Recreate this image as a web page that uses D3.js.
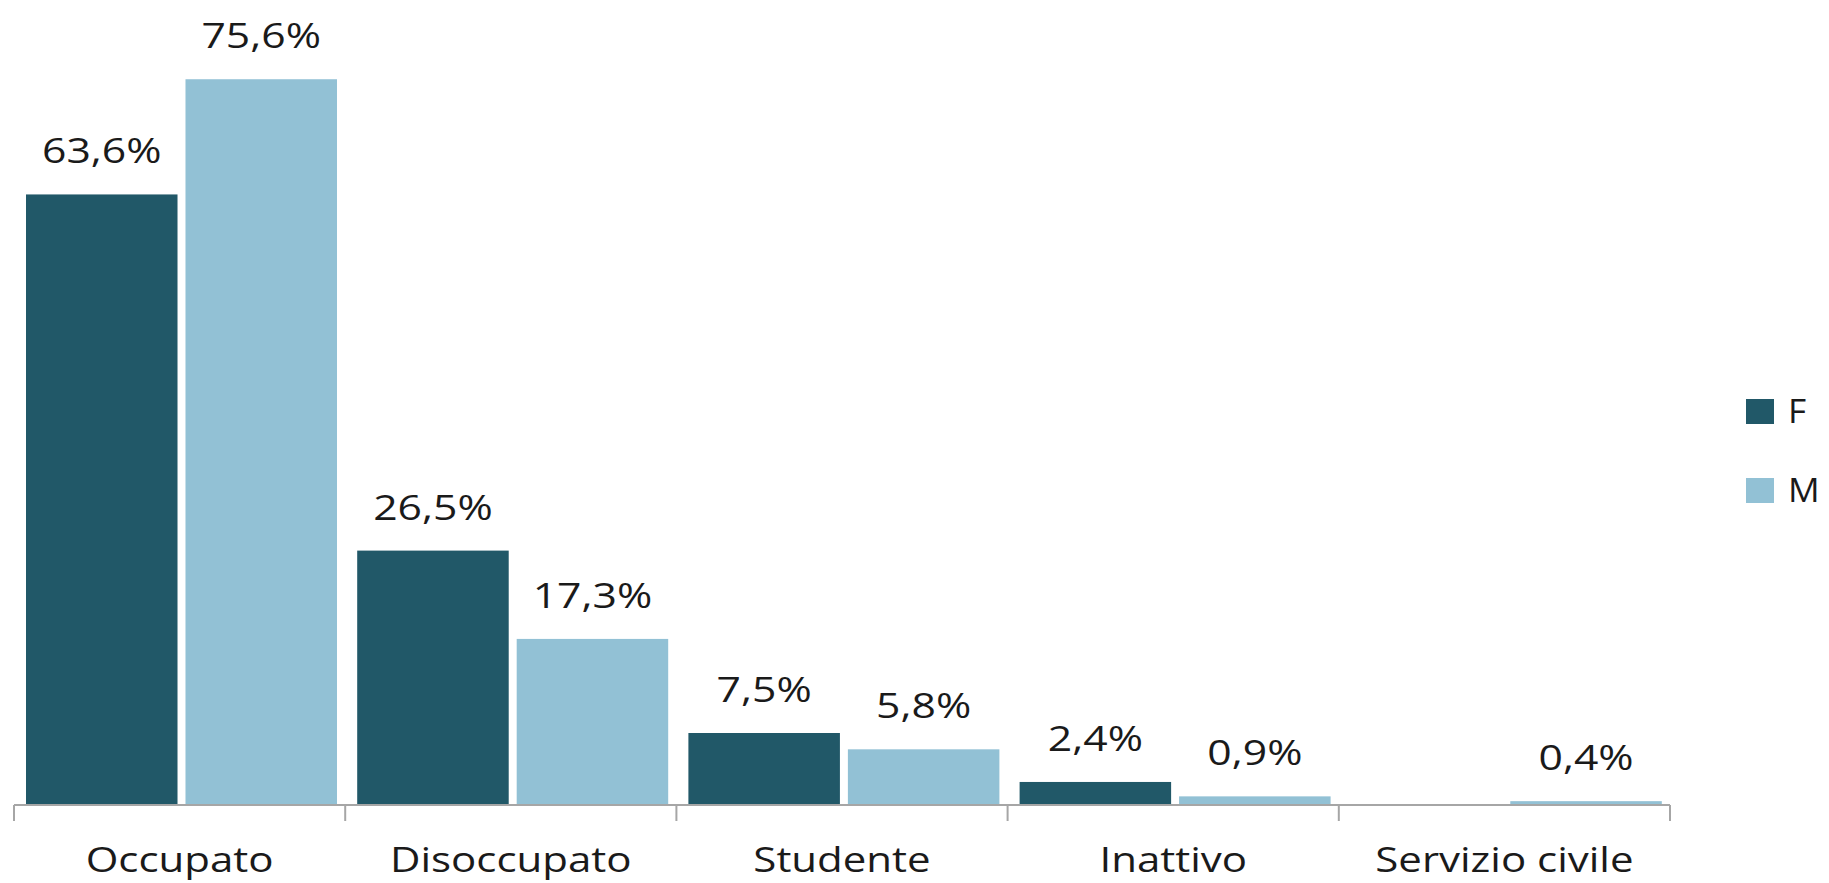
<!DOCTYPE html>
<html>
<head>
<meta charset="utf-8">
<script src="https://cdn.jsdelivr.net/npm/d3@7"></script>
<style>
  html, body { margin: 0; padding: 0; background: #ffffff; }
  svg { display: block; }
  text { font-family: "Open Sans", "Noto Sans", sans-serif; fill: #1a1a1a; }
</style>
</head>
<body>
<svg id="chart" width="1829" height="883"></svg>
<script>
const categories = ["Occupato", "Disoccupato", "Studente", "Inattivo", "Servizio civile"];
const series = ["F", "M"];
const valuesF = [63.6, 26.5, 7.5, 2.4, 0];
const valuesM = [75.6, 17.3, 5.8, 0.9, 0.4];
const labelsF = ["63,6%", "26,5%", "7,5%", "2,4%", ""];
const labelsM = ["75,6%", "17,3%", "5,8%", "0,9%", "0,4%"];
const colors = { F: "#215868", M: "#92c1d5" };

const svg = d3.select("#chart");
const baseY = 805;
const y = d3.scaleLinear().domain([0, 80]).range([baseY, baseY - 768]);
const x0 = d3.scaleBand().domain(categories).range([14, 1670]).padding(0);
const x1 = d3.scaleBand().domain(series).range([12, 323]).paddingInner(0.05).paddingOuter(0);

const data = categories.map((c, i) => ({
  cat: c,
  items: [
    { s: "F", v: valuesF[i], label: labelsF[i] },
    { s: "M", v: valuesM[i], label: labelsM[i] }
  ]
}));

const groups = svg.selectAll("g.cat").data(data).enter().append("g")
  .attr("class", "cat")
  .attr("transform", d => `translate(${x0(d.cat)},0)`);

groups.selectAll("rect").data(d => d.items.filter(it => it.v > 0)).enter().append("rect")
  .attr("x", d => x1(d.s))
  .attr("width", x1.bandwidth())
  .attr("y", d => y(d.v))
  .attr("height", d => baseY - y(d.v))
  .attr("fill", d => colors[d.s]);

groups.selectAll("text.val").data(d => d.items.filter(it => it.label)).enter().append("text")
  .attr("class", "val")
  .attr("text-anchor", "middle")
  .attr("font-size", 35)
  .attr("transform", d => `translate(${x1(d.s) + x1.bandwidth() / 2},${y(d.v) - 31}) scale(1.22,1)`)
  .text(d => d.label);

// axis
const axis = d3.axisBottom(x0).tickSize(0).tickFormat("");
const axisG = svg.append("g").attr("transform", `translate(0,${baseY})`).call(axis);
axisG.select(".domain").attr("stroke", "#a6a6a6").attr("stroke-width", 2).attr("d", `M14,0H1670`);
const boundaries = categories.map(c => x0(c)).concat([x0.range()[1]]);
svg.append("g").selectAll("line").data(boundaries).enter().append("line")
  .attr("x1", d => d).attr("x2", d => d)
  .attr("y1", baseY).attr("y2", baseY + 16)
  .attr("stroke", "#a6a6a6").attr("stroke-width", 2);

svg.append("g").selectAll("text").data(categories).enter().append("text")
  .attr("text-anchor", "middle")
  .attr("font-size", 35)
  .attr("transform", d => `translate(${x0(d) + x0.bandwidth() / 2},${872}) scale(1.2,1)`)
  .text(d => d);

// legend
const legend = svg.append("g").attr("transform", "translate(1746,399)");
series.forEach((s, i) => {
  const g = legend.append("g").attr("transform", `translate(0,${i * 79})`);
  g.append("rect").attr("width", 28).attr("height", 25).attr("fill", colors[s]);
  g.append("text").attr("font-size", 32)
    .attr("transform", "translate(42,24) scale(1.1,1)")
    .text(s);
});
</script>
</body>
</html>
